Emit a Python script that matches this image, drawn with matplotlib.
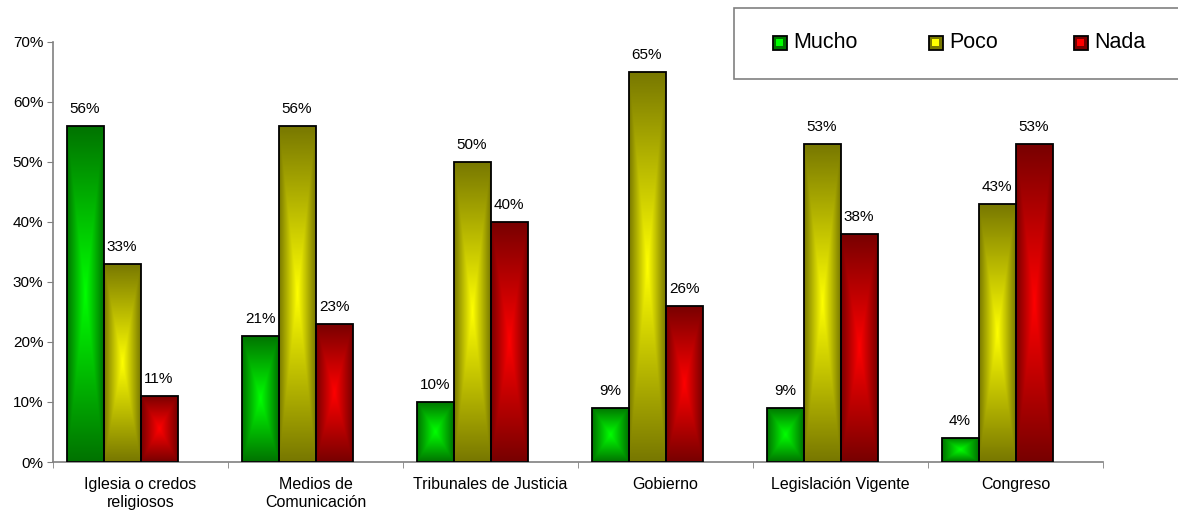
import numpy as np
import matplotlib
matplotlib.use("Agg")
import matplotlib.pyplot as plt
from matplotlib.patches import Rectangle

plt.rcParams['font.family'] = ['Liberation Sans', 'DejaVu Sans']

# data (percent)
categories = ['Iglesia o credos\nreligiosos', 'Medios de\nComunicación',
              'Tribunales de Justicia', 'Gobierno', 'Legislación Vigente',
              'Congreso']
mucho = [56, 21, 10, 9, 9, 4]
poco = [33, 56, 50, 65, 53, 43]
nada = [11, 23, 40, 26, 38, 53]
series_names = ['Mucho', 'Poco', 'Nada']

# (edge colour, centre colour) of the box gradients
dark_cols = [(0.0, 0.45, 0.0), (0.47, 0.47, 0.0), (0.47, 0.0, 0.0)]
bright_cols = [(0.0, 1.0, 0.0), (1.0, 1.0, 0.0), (1.0, 0.0, 0.0)]


def box_gradient(dark, bright, n=120):
    """RGB array that is bright in the middle and dark at the edges."""
    u = np.linspace(-1, 1, n)
    uu, vv = np.meshgrid(u, u)
    t = 1 - np.maximum(np.abs(uu), np.abs(vv))
    dark = np.array(dark)
    bright = np.array(bright)
    return dark + (bright - dark) * t[..., None]


fig = plt.figure(figsize=(11.78, 5.12), dpi=100)
ax = fig.add_axes([53 / 1178, 50 / 512, 1050 / 1178, 420.5 / 512])

xpos = np.arange(len(categories))
width = 37 / 175
offsets = [-1.5 * width, -0.5 * width, 0.5 * width]

for s, vals in enumerate([mucho, poco, nada]):
    bars = ax.bar(xpos + offsets[s], vals, width, facecolor='none',
                  edgecolor='black', linewidth=1.3, zorder=3)
    grad = box_gradient(dark_cols[s], bright_cols[s])
    for bar, v in zip(bars, vals):
        x0 = bar.get_x()
        im = ax.imshow(grad, extent=(x0, x0 + width, 0, v), origin='lower',
                       aspect='auto', interpolation='bilinear', zorder=2)
        im.set_clip_path(bar)
        ax.annotate(f'{v}%', (x0 + width / 2, v), xytext=(0, 7),
                    textcoords='offset points', ha='center', va='bottom',
                    fontsize=11)

ax.set_xlim(-0.5, len(categories) - 0.5)
ax.set_ylim(0, 70)
ax.set_yticks(np.arange(0, 71, 10))
ax.set_yticklabels([f'{t}%' for t in range(0, 71, 10)], fontsize=11)
ax.set_xticks(xpos)
ax.set_xticklabels(categories, fontsize=11.5, linespacing=1.25)
ax.set_xticks(np.arange(-0.5, len(categories)), minor=True)
ax.tick_params(axis='x', which='major', length=0, pad=11)
ax.tick_params(axis='x', which='minor', length=4, color='#808080',
               direction='out')
ax.tick_params(axis='y', length=4, color='#808080', pad=3)

for side in ['top', 'right']:
    ax.spines[side].set_visible(False)
for side in ['left', 'bottom']:
    ax.spines[side].set_color('#808080')
    ax.spines[side].set_linewidth(1.2)

# legend box drawn in pixel coordinates of the figure
W, H = 1178, 512
fig.patches.append(Rectangle((734 / W, 1 - 79 / H), 460 / W, 71 / H,
                             transform=fig.transFigure, facecolor='white',
                             edgecolor='#808080', linewidth=1.2))
marker_x = [773, 929, 1074]
for s, name in enumerate(series_names):
    mx = marker_x[s]
    fig.patches.append(Rectangle((mx / W, 1 - 50 / H), 14 / W, 14 / H,
                                 transform=fig.transFigure,
                                 facecolor=dark_cols[s], edgecolor='black',
                                 linewidth=1.3))
    fig.patches.append(Rectangle(((mx + 3) / W, 1 - 46 / H), 7 / W, 7 / H,
                                 transform=fig.transFigure,
                                 facecolor=bright_cols[s], edgecolor='none'))
    fig.text((mx + 20) / W, 1 - 42 / H, name, fontsize=15.5, va='center',
             ha='left')

fig.savefig('out.png', dpi=100)
